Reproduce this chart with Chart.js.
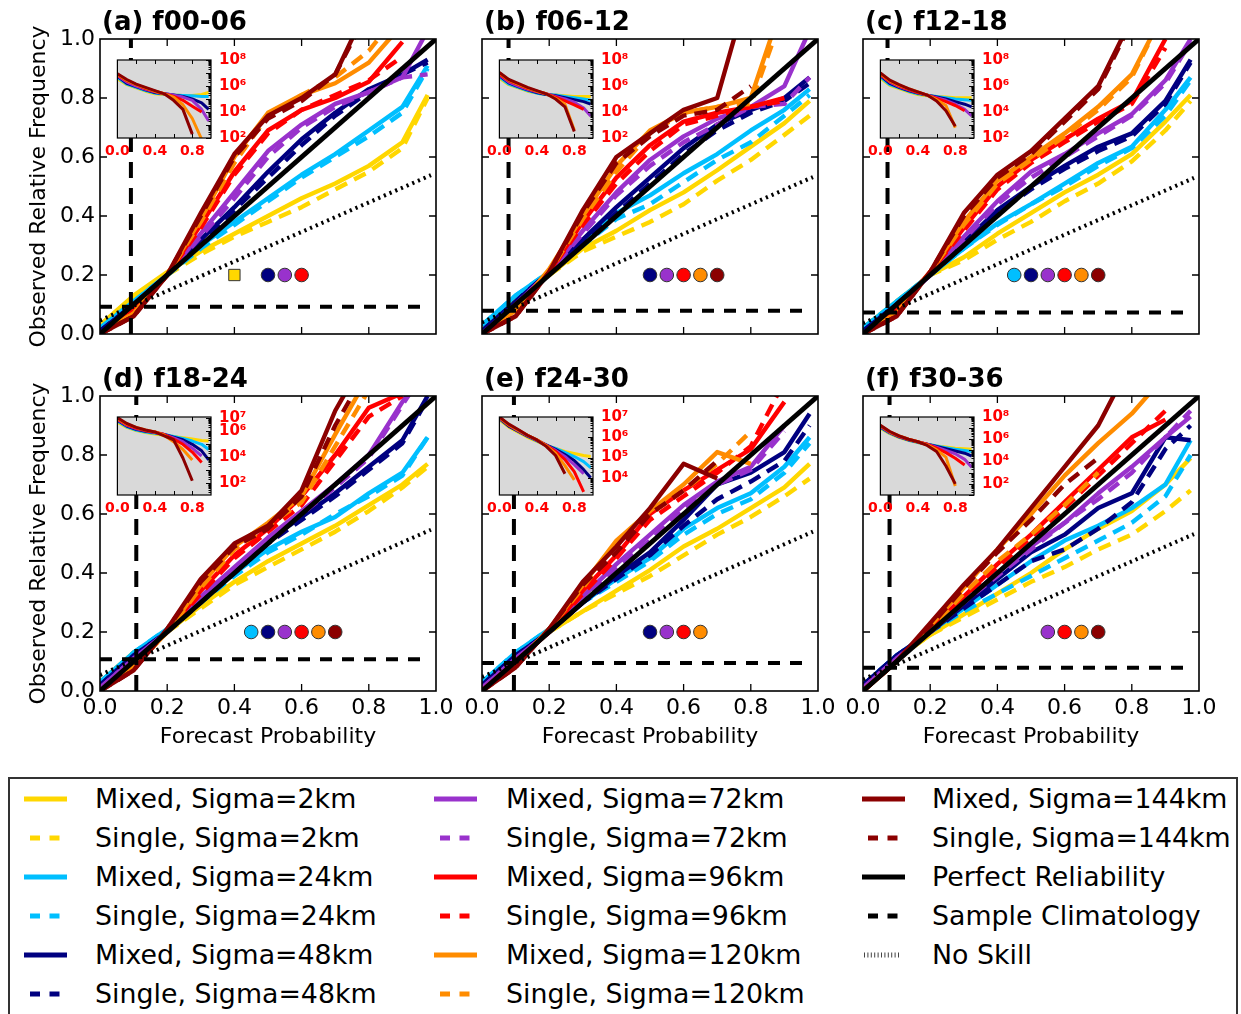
<!DOCTYPE html>
<html>
<head>
<meta charset="utf-8">
<script src="https://cdn.jsdelivr.net/npm/chart.js@4.4.1/dist/chart.umd.min.js"></script>
<style>
  html, body { margin: 0; padding: 0; background: #fff; }
  #page { position: relative; width: 1241px; height: 1014px; overflow: hidden; font-family: 'DejaVu Sans', sans-serif; }
  #page canvas { position: absolute; }
  #legend { position: absolute; left: 8px; top: 777px; width: 1230px; height: 260px; border: 2px solid #333; box-sizing: border-box; }
  .lg-text { position: absolute; height: 30px; line-height: 30px; font-size: 26.8px; white-space: nowrap; color: #000; }
  .lg-line { position: absolute; width: 46px; height: 12px; }
</style>
</head>
<body>
<div id="page"><div id="legend"></div></div>
<script>
// forecast probability bins shared by every curve
const PROB = [0, 0.1, 0.2, 0.3, 0.4, 0.5, 0.6, 0.7, 0.8, 0.9, 0.975];
const AXIS_TICKS = [0, 0.2, 0.4, 0.6, 0.8, 1.0];
const INSET_X_TICKS = [0, 0.4, 0.8];

const SIGMAS = [2, 24, 48, 72, 96, 120, 144];
const COLORS = ['#FFD700', '#00BFFF', '#000080', '#9932CC', '#FF0000', '#FF8C00', '#8B0000'];
const PANELS = ['(a) f00-06', '(b) f06-12', '(c) f12-18', '(d) f18-24', '(e) f24-30', '(f) f30-36'];

// sample climatology per lead-time window
const CLIM = [0.092, 0.079, 0.073, 0.108, 0.095, 0.079];

// significance markers, one slot per sigma
const MARK_X = [0.40, 0.45, 0.50, 0.55, 0.60, 0.65, 0.70];
const MARK_Y = 0.2;
const marksA = ['rect', '', 'circle', 'circle', 'circle', '', ''];
const marksB = ['', '', 'circle', 'circle', 'circle', 'circle', 'circle'];
const marksC = ['', 'circle', 'circle', 'circle', 'circle', 'circle', 'circle'];
const marksD = ['', 'circle', 'circle', 'circle', 'circle', 'circle', 'circle'];
const marksE = ['', '', 'circle', 'circle', 'circle', 'circle', ''];
const marksF = ['', '', '', 'circle', 'circle', 'circle', 'circle'];

// observed relative frequency, rows ordered like SIGMAS
const mixedA = [
  [0.03, 0.13, 0.21, 0.28, 0.34, 0.40, 0.46, 0.51, 0.57, 0.65, 0.81],
  [0.02, 0.11, 0.20, 0.30, 0.38, 0.46, 0.54, 0.61, 0.69, 0.77, 0.91],
  [0.01, 0.10, 0.20, 0.32, 0.43, 0.55, 0.66, 0.75, 0.83, 0.88, 0.93],
  [0.00, 0.09, 0.20, 0.34, 0.48, 0.62, 0.71, 0.78, 0.82, 0.87, 1.03],
  [0.00, 0.08, 0.20, 0.37, 0.55, 0.69, 0.76, 0.80, 0.855, 0.99, null],
  [0.00, 0.07, 0.20, 0.39, 0.60, 0.75, 0.81, 0.85, 0.92, 1.05, null],
  [0.00, 0.06, 0.20, 0.41, 0.61, 0.74, 0.80, 0.88, 1.12, null, null]
];
const singleA = [
  [0.03, 0.12, 0.20, 0.27, 0.33, 0.38, 0.43, 0.49, 0.55, 0.63, 0.80],
  [0.02, 0.11, 0.20, 0.29, 0.37, 0.45, 0.53, 0.60, 0.67, 0.75, 0.90],
  [0.01, 0.10, 0.20, 0.31, 0.42, 0.53, 0.64, 0.74, 0.82, 0.88, 0.92],
  [0.00, 0.09, 0.20, 0.33, 0.46, 0.60, 0.70, 0.77, 0.82, 0.87, 0.88],
  [0.00, 0.08, 0.20, 0.36, 0.54, 0.68, 0.76, 0.81, 0.86, 0.94, null],
  [0.00, 0.07, 0.20, 0.38, 0.58, 0.74, 0.81, 0.87, 0.96, 1.10, null],
  [0.00, 0.06, 0.20, 0.40, 0.60, 0.73, 0.79, 0.88, 1.10, null, null]
];
const mixedB = [
  [0.03, 0.12, 0.20, 0.29, 0.35, 0.42, 0.48, 0.555, 0.635, 0.715, 0.79],
  [0.03, 0.13, 0.21, 0.31, 0.41, 0.47, 0.545, 0.61, 0.69, 0.76, 0.83],
  [0.01, 0.11, 0.21, 0.32, 0.43, 0.53, 0.63, 0.71, 0.76, 0.80, 0.87],
  [0.00, 0.10, 0.21, 0.35, 0.48, 0.59, 0.67, 0.73, 0.77, 0.84, 1.03],
  [0.00, 0.09, 0.21, 0.38, 0.53, 0.64, 0.72, 0.75, 0.77, 0.80, null],
  [0.00, 0.08, 0.22, 0.40, 0.57, 0.69, 0.75, 0.77, 0.80, 1.14, null],
  [0.00, 0.06, 0.21, 0.42, 0.60, 0.68, 0.76, 0.80, 1.20, null, null]
];
const singleB = [
  [0.03, 0.12, 0.20, 0.28, 0.33, 0.38, 0.44, 0.52, 0.59, 0.675, 0.74],
  [0.03, 0.13, 0.21, 0.30, 0.39, 0.44, 0.515, 0.59, 0.65, 0.74, 0.81],
  [0.01, 0.11, 0.21, 0.31, 0.41, 0.51, 0.61, 0.69, 0.75, 0.79, 0.85],
  [0.00, 0.10, 0.21, 0.34, 0.47, 0.57, 0.65, 0.71, 0.77, 0.78, 0.87],
  [0.00, 0.09, 0.21, 0.37, 0.51, 0.62, 0.71, 0.74, 0.77, 0.79, null],
  [0.00, 0.08, 0.21, 0.39, 0.55, 0.68, 0.75, 0.77, 0.78, 1.10, null],
  [0.00, 0.06, 0.21, 0.41, 0.58, 0.67, 0.74, 0.76, 0.84, null, null]
];
const mixedC = [
  [0.02, 0.11, 0.20, 0.26, 0.34, 0.41, 0.48, 0.54, 0.61, 0.72, 0.81],
  [0.02, 0.11, 0.20, 0.29, 0.375, 0.44, 0.51, 0.58, 0.635, 0.76, 0.87],
  [0.01, 0.10, 0.20, 0.31, 0.42, 0.50, 0.57, 0.635, 0.68, 0.79, 0.93],
  [0.00, 0.09, 0.20, 0.33, 0.45, 0.55, 0.61, 0.68, 0.745, 0.86, 1.00],
  [0.00, 0.08, 0.21, 0.36, 0.50, 0.59, 0.66, 0.73, 0.79, 1.00, null],
  [0.00, 0.07, 0.21, 0.38, 0.52, 0.60, 0.68, 0.77, 0.88, 1.10, null],
  [0.00, 0.06, 0.21, 0.41, 0.54, 0.62, 0.73, 0.84, 1.07, null, null]
];
const singleC = [
  [0.02, 0.11, 0.20, 0.25, 0.32, 0.38, 0.45, 0.51, 0.585, 0.69, 0.79],
  [0.02, 0.11, 0.20, 0.29, 0.37, 0.44, 0.50, 0.57, 0.63, 0.74, 0.86],
  [0.01, 0.10, 0.20, 0.30, 0.41, 0.49, 0.56, 0.62, 0.67, 0.78, 0.92],
  [0.00, 0.09, 0.20, 0.32, 0.44, 0.53, 0.60, 0.67, 0.74, 0.85, 0.99],
  [0.00, 0.08, 0.21, 0.35, 0.49, 0.58, 0.65, 0.72, 0.78, 0.97, null],
  [0.00, 0.07, 0.21, 0.37, 0.51, 0.59, 0.67, 0.76, 0.87, 1.10, null],
  [0.00, 0.06, 0.21, 0.40, 0.53, 0.61, 0.72, 0.83, 1.06, null, null]
];
const mixedD = [
  [0.03, 0.13, 0.20, 0.29, 0.37, 0.44, 0.50, 0.56, 0.63, 0.70, 0.77],
  [0.03, 0.13, 0.21, 0.30, 0.40, 0.48, 0.54, 0.59, 0.67, 0.74, 0.86],
  [0.02, 0.12, 0.20, 0.31, 0.41, 0.51, 0.59, 0.67, 0.76, 0.85, 1.00],
  [0.01, 0.11, 0.20, 0.32, 0.42, 0.52, 0.61, 0.70, 0.80, 0.98, 1.10],
  [0.00, 0.09, 0.20, 0.34, 0.46, 0.55, 0.66, 0.80, 0.96, 1.01, null],
  [0.00, 0.08, 0.20, 0.36, 0.49, 0.57, 0.66, 0.87, 1.07, null, null],
  [0.00, 0.07, 0.21, 0.38, 0.50, 0.56, 0.68, 0.95, 1.15, null, null]
];
const singleD = [
  [0.03, 0.13, 0.20, 0.28, 0.36, 0.42, 0.48, 0.54, 0.61, 0.69, 0.76],
  [0.03, 0.13, 0.21, 0.30, 0.39, 0.47, 0.53, 0.60, 0.66, 0.73, 0.86],
  [0.02, 0.12, 0.20, 0.30, 0.40, 0.50, 0.58, 0.66, 0.75, 0.84, 0.99],
  [0.01, 0.11, 0.20, 0.31, 0.41, 0.51, 0.60, 0.69, 0.79, 0.97, 1.10],
  [0.00, 0.09, 0.20, 0.33, 0.45, 0.54, 0.63, 0.78, 0.93, 1.00, null],
  [0.00, 0.08, 0.20, 0.35, 0.48, 0.56, 0.64, 0.83, 1.02, null, null],
  [0.00, 0.07, 0.21, 0.37, 0.49, 0.55, 0.66, 0.90, 1.10, null, null]
];
const mixedE = [
  [0.03, 0.12, 0.20, 0.27, 0.34, 0.41, 0.49, 0.55, 0.62, 0.69, 0.77],
  [0.03, 0.13, 0.21, 0.30, 0.38, 0.45, 0.55, 0.62, 0.67, 0.76, 0.86],
  [0.02, 0.12, 0.20, 0.30, 0.39, 0.47, 0.58, 0.70, 0.74, 0.81, 0.94],
  [0.01, 0.11, 0.20, 0.32, 0.43, 0.53, 0.63, 0.71, 0.76, 0.90, null],
  [0.00, 0.10, 0.20, 0.34, 0.46, 0.60, 0.68, 0.75, 0.82, 0.98, null],
  [0.00, 0.09, 0.21, 0.36, 0.51, 0.61, 0.70, 0.81, 0.77, null, null],
  [0.00, 0.08, 0.21, 0.37, 0.49, 0.62, 0.77, 0.72, null, null, null]
];
const singleE = [
  [0.03, 0.12, 0.20, 0.27, 0.33, 0.39, 0.46, 0.53, 0.59, 0.66, 0.72],
  [0.03, 0.13, 0.21, 0.30, 0.37, 0.44, 0.53, 0.60, 0.65, 0.74, 0.84],
  [0.02, 0.12, 0.20, 0.30, 0.38, 0.46, 0.56, 0.65, 0.71, 0.78, 0.90],
  [0.01, 0.11, 0.20, 0.31, 0.42, 0.51, 0.62, 0.70, 0.75, 0.88, null],
  [0.00, 0.10, 0.20, 0.33, 0.45, 0.58, 0.66, 0.74, 0.83, 1.05, null],
  [0.00, 0.09, 0.21, 0.35, 0.50, 0.60, 0.68, 0.77, 0.88, null, null],
  [0.00, 0.08, 0.21, 0.36, 0.47, 0.60, 0.68, 0.78, null, null, null]
];
const mixedF = [
  [0.02, 0.11, 0.19, 0.26, 0.33, 0.40, 0.48, 0.55, 0.61, 0.70, 0.79],
  [0.02, 0.12, 0.20, 0.28, 0.36, 0.44, 0.51, 0.56, 0.62, 0.70, 0.85],
  [0.02, 0.12, 0.20, 0.29, 0.38, 0.47, 0.53, 0.62, 0.67, 0.86, 0.85],
  [0.01, 0.11, 0.20, 0.30, 0.40, 0.49, 0.57, 0.67, 0.76, 0.86, 0.93],
  [0.00, 0.10, 0.21, 0.32, 0.43, 0.53, 0.64, 0.75, 0.86, 0.92, null],
  [0.00, 0.10, 0.22, 0.35, 0.48, 0.60, 0.73, 0.84, 0.94, 1.07, null],
  [0.00, 0.10, 0.23, 0.36, 0.48, 0.62, 0.76, 0.90, 1.12, null, null]
];
const singleF = [
  [0.02, 0.11, 0.19, 0.25, 0.31, 0.37, 0.42, 0.48, 0.53, 0.61, 0.68],
  [0.02, 0.12, 0.20, 0.27, 0.33, 0.39, 0.45, 0.51, 0.57, 0.66, 0.80],
  [0.02, 0.12, 0.20, 0.28, 0.36, 0.44, 0.48, 0.55, 0.64, 0.82, 0.90],
  [0.01, 0.11, 0.20, 0.30, 0.39, 0.48, 0.57, 0.65, 0.74, 0.86, 0.95],
  [0.00, 0.10, 0.21, 0.32, 0.42, 0.52, 0.62, 0.73, 0.84, 0.95, null],
  [0.00, 0.10, 0.21, 0.33, 0.44, 0.53, 0.63, 0.74, null, null, null],
  [0.00, 0.10, 0.22, 0.35, 0.47, 0.58, 0.70, 0.79, null, null, null]
];

// forecast counts per bin (log10), mixed ensembles
const countA = [
  [6.55, 6.10, 5.85, 5.60, 5.40, 5.35, 5.30, 5.27, 5.27, 5.35, 5.50],
  [6.65, 6.15, 5.90, 5.65, 5.45, 5.38, 5.30, 5.27, 5.25, 5.20, 5.20],
  [6.75, 6.20, 5.95, 5.70, 5.50, 5.40, 5.30, 5.20, 5.00, 4.70, 4.20],
  [6.80, 6.30, 6.00, 5.75, 5.55, 5.40, 5.30, 5.15, 4.90, 4.20, 3.30],
  [6.85, 6.40, 6.10, 5.80, 5.60, 5.40, 5.20, 4.90, 4.45, 4.00, null],
  [6.90, 6.45, 6.10, 5.85, 5.60, 5.40, 5.15, 4.56, 3.50, 1.90, null],
  [6.95, 6.50, 6.15, 5.90, 5.65, 5.40, 4.90, 4.20, 2.30, null, null]
];
const countB = [
  [6.60, 6.10, 5.85, 5.60, 5.45, 5.35, 5.30, 5.25, 5.20, 5.20, 5.20],
  [6.70, 6.15, 5.90, 5.65, 5.45, 5.35, 5.30, 5.20, 5.10, 5.00, 4.90],
  [6.80, 6.25, 5.95, 5.70, 5.50, 5.35, 5.25, 5.10, 4.95, 4.80, 4.60],
  [6.85, 6.30, 6.00, 5.75, 5.55, 5.40, 5.20, 5.00, 4.75, 4.30, 3.70],
  [6.90, 6.40, 6.10, 5.80, 5.60, 5.40, 5.15, 4.85, 4.55, 4.20, null],
  [7.00, 6.45, 6.15, 5.85, 5.60, 5.40, 5.05, 4.60, 2.60, null, null],
  [7.05, 6.50, 6.20, 5.90, 5.65, 5.40, 5.00, 4.40, 2.50, null, null]
];
const countC = [
  [6.60, 6.05, 5.80, 5.55, 5.35, 5.25, 5.20, 5.15, 5.10, 5.10, 5.10],
  [6.70, 6.10, 5.85, 5.60, 5.40, 5.28, 5.20, 5.10, 5.00, 4.95, 4.90],
  [6.80, 6.20, 5.90, 5.65, 5.45, 5.30, 5.15, 5.00, 4.80, 4.60, 4.40],
  [6.85, 6.30, 5.95, 5.70, 5.50, 5.30, 5.10, 4.90, 4.60, 4.20, 3.70],
  [6.90, 6.35, 6.00, 5.75, 5.50, 5.30, 5.05, 4.80, 4.50, 4.10, null],
  [6.95, 6.40, 6.05, 5.80, 5.55, 5.30, 4.95, 4.50, 2.80, null, null],
  [7.00, 6.45, 6.10, 5.80, 5.55, 5.30, 4.85, 4.10, 2.90, null, null]
];
const countD = [
  [6.70, 6.30, 6.05, 5.90, 5.80, 5.70, 5.60, 5.50, 5.40, 5.30, 5.25],
  [6.80, 6.35, 6.10, 5.95, 5.85, 5.75, 5.60, 5.45, 5.25, 5.00, 4.60],
  [6.85, 6.40, 6.15, 6.00, 5.90, 5.75, 5.55, 5.35, 5.00, 4.50, 3.80],
  [6.90, 6.45, 6.20, 6.05, 5.90, 5.75, 5.50, 5.20, 4.70, 4.10, null],
  [6.95, 6.50, 6.25, 6.05, 5.95, 5.75, 5.40, 5.00, 4.40, 3.60, null],
  [7.00, 6.55, 6.30, 6.10, 5.95, 5.70, 5.20, 4.60, 3.80, null, null],
  [7.05, 6.60, 6.30, 6.10, 5.95, 5.65, 5.35, 3.95, 2.20, null, null]
];
const countE = [
  [6.85, 6.50, 6.25, 6.00, 5.80, 5.60, 5.45, 5.30, 5.20, 5.10, 5.05],
  [6.90, 6.55, 6.30, 6.05, 5.82, 5.60, 5.45, 5.25, 5.05, 4.80, 4.50],
  [6.93, 6.55, 6.30, 6.05, 5.85, 5.62, 5.40, 5.15, 4.85, 4.40, 4.00],
  [6.95, 6.60, 6.32, 6.08, 5.85, 5.60, 5.35, 5.05, 4.65, 4.20, null],
  [6.97, 6.60, 6.35, 6.10, 5.87, 5.60, 5.30, 4.90, 4.30, 3.30, null],
  [6.98, 6.62, 6.35, 6.10, 5.87, 5.58, 5.20, 4.60, 3.90, null, null],
  [7.00, 6.65, 6.38, 6.10, 5.87, 5.55, 5.10, 4.20, null, null, null]
];
const countF = [
  [7.00, 6.50, 6.15, 5.90, 5.70, 5.55, 5.40, 5.30, 5.20, 5.15, 5.10],
  [7.05, 6.55, 6.20, 5.92, 5.72, 5.55, 5.40, 5.25, 5.10, 5.00, 4.90],
  [7.10, 6.60, 6.22, 5.95, 5.75, 5.55, 5.35, 5.15, 4.95, 4.75, 4.50],
  [7.15, 6.62, 6.25, 5.97, 5.77, 5.55, 5.30, 5.00, 4.70, 4.20, 3.50],
  [7.20, 6.65, 6.27, 6.00, 5.78, 5.55, 5.20, 4.80, 4.30, 3.70, null],
  [7.22, 6.67, 6.30, 6.00, 5.78, 5.50, 5.05, 4.40, 1.80, null, null],
  [7.25, 6.70, 6.30, 6.00, 5.78, 5.45, 4.90, 3.60, 2.00, null, null]
];

// inset count axis limits and labelled decades (log10)
const INSET_LOG_MIN = [2, 2, 2, 1.1, 3.15, 1.0];
const INSET_LOG_MAX = [8, 8, 8, 7.1, 7.0, 8.0];
const INSET_TICKS = [[2, 4, 6, 8], [2, 4, 6, 8], [2, 4, 6, 8], [2, 4, 6, 7], [4, 5, 6, 7], [2, 4, 6, 8]];

const MIXED = [mixedA, mixedB, mixedC, mixedD, mixedE, mixedF];
const SINGLE = [singleA, singleB, singleC, singleD, singleE, singleF];
const COUNTS = [countA, countB, countC, countD, countE, countF];
const MARKS = [marksA, marksB, marksC, marksD, marksE, marksF];

// page layout (px)
const COL_LEFT = [100, 482, 863];
const ROW_TOP = [39, 396];
const PLOT_W = 336, PLOT_H = 295;
const PAD_L = 100, PAD_T = 39, PAD_R = 22, PAD_B = 70;
const INSET_W = 97, INSET_H = 85, INSET_OFF = 14;
const INSET_PAD_L = 14, INSET_PAD_T = 10, INSET_AX_R = 48, INSET_AX_B = 26;

const SUP = {1: '\u00b9', 2: '\u00b2', 3: '\u00b3', 4: '\u2074', 5: '\u2075', 6: '\u2076', 7: '\u2077', 8: '\u2078'};

Chart.defaults.font.family = '"DejaVu Sans", sans-serif';
Chart.defaults.color = '#000';

const page = document.getElementById('page');

function addCanvas(left, top, w, h) {
  const c = document.createElement('canvas');
  c.width = w; c.height = h;
  c.style.left = left + 'px';
  c.style.top = top + 'px';
  c.style.width = w + 'px';
  c.style.height = h + 'px';
  page.appendChild(c);
  return c;
}

function line(points, color, width, dash) {
  return {
    data: points,
    borderColor: color,
    borderWidth: width,
    borderDash: dash,
    borderCapStyle: 'butt',
    borderJoinStyle: 'round',
    pointRadius: 0,
    tension: 0,
    fill: false,
    clip: 0
  };
}

function curvePoints(values, transform) {
  return PROB.map((p, j) => ({x: p, y: values[j]}))
    .filter(pt => pt.y !== null)
    .map(pt => transform ? {x: pt.x, y: transform(pt.y)} : pt);
}

// frame, inward ticks and panel title
const panelFrame = {
  id: 'panelFrame',
  afterDatasetsDraw(chart, args, opts) {
    const {ctx, chartArea: {left, top, right, bottom}, scales: {x, y}} = chart;
    ctx.save();
    ctx.strokeStyle = '#000';
    ctx.lineWidth = 1.3;
    ctx.beginPath();
    AXIS_TICKS.slice(1, -1).forEach(v => {
      const px = x.getPixelForValue(v), py = y.getPixelForValue(v);
      ctx.moveTo(px, bottom); ctx.lineTo(px, bottom - 7);
      ctx.moveTo(px, top); ctx.lineTo(px, top + 7);
      ctx.moveTo(left, py); ctx.lineTo(left + 7, py);
      ctx.moveTo(right, py); ctx.lineTo(right - 7, py);
    });
    ctx.stroke();
    ctx.lineWidth = 1.6;
    ctx.strokeRect(left, top, right - left, bottom - top);
    ctx.font = 'bold 26px "DejaVu Sans"';
    ctx.fillStyle = '#000';
    ctx.textBaseline = 'alphabetic';
    ctx.textAlign = 'left';
    ctx.fillText(opts.title, left + 2, top - 9);
    ctx.restore();
  }
};

// grey inset background, border and log ticks on the right
const insetFrame = {
  id: 'insetFrame',
  beforeDatasetsDraw(chart) {
    const {ctx, chartArea: {left, top, right, bottom}} = chart;
    ctx.save();
    ctx.fillStyle = '#d9d9d9';
    ctx.fillRect(left, top, right - left, bottom - top);
    ctx.restore();
  },
  afterDatasetsDraw(chart) {
    const {ctx, chartArea: {left, top, right, bottom}, scales: {x, y}} = chart;
    ctx.save();
    ctx.strokeStyle = '#000';
    ctx.lineWidth = 1;
    ctx.beginPath();
    AXIS_TICKS.slice(1, -1).forEach(v => {
      const px = Math.round(x.getPixelForValue(v)) + 0.5;
      ctx.moveTo(px, bottom); ctx.lineTo(px, bottom - 4);
      ctx.moveTo(px, top); ctx.lineTo(px, top + 4);
    });
    const lo = Math.log10(y.min), hi = Math.log10(y.max);
    for (let d = Math.floor(lo); d <= Math.ceil(hi); d++) {
      for (let m = 1; m <= 9; m++) {
        const e = d + Math.log10(m);
        if (e < lo || e > hi) continue;
        const py = Math.round(y.getPixelForValue(m * Math.pow(10, d))) + 0.5;
        ctx.moveTo(right, py); ctx.lineTo(right - (m === 1 ? 5 : 2.5), py);
      }
    }
    ctx.stroke();
    ctx.lineWidth = 1.2;
    ctx.strokeRect(left, top, right - left, bottom - top);
    ctx.restore();
  }
};

function makePanel(i) {
  const row = Math.floor(i / 3), col = i % 3;
  const canvas = addCanvas(COL_LEFT[col] - PAD_L, ROW_TOP[row] - PAD_T,
    PAD_L + PLOT_W + PAD_R, PAD_T + PLOT_H + PAD_B);
  const clim = CLIM[i];

  // paint order: first entry ends up underneath
  const layers = [];
  SIGMAS.forEach((s, k) => {
    layers.push(line(curvePoints(MIXED[i][k]), COLORS[k], 4.4, []));
    layers.push(line(curvePoints(SINGLE[i][k]), COLORS[k], 4.4, [13, 8]));
  });
  layers.push(line([{x: 0, y: 0}, {x: 1, y: 1}], '#000', 4.8, []));
  layers.push(line([{x: 0, y: clim}, {x: 0.965, y: clim}], '#000', 4, [12, 10]));
  layers.push(line([{x: clim, y: 0}, {x: clim, y: 1}], '#000', 4, [16, 10]));
  layers.push(line([{x: 0, y: clim / 2}, {x: 0.985, y: (0.985 + clim) / 2}], '#000', 4, [2.2, 4]));

  const marks = MARKS[i].map((m, k) => ({m, k})).filter(o => o.m);
  layers.push({
    data: marks.map(o => ({x: MARK_X[o.k], y: MARK_Y})),
    showLine: false,
    pointStyle: marks.map(o => o.m),
    pointRadius: marks.map(o => o.m === 'rect' ? 8 : 6.8),
    pointBackgroundColor: marks.map(o => COLORS[o.k]),
    pointBorderColor: '#333',
    pointBorderWidth: 1,
    clip: 0
  });
  layers.forEach((d, j) => { d.order = layers.length - j; });

  new Chart(canvas, {
    type: 'line',
    data: {datasets: layers},
    options: {
      responsive: false,
      devicePixelRatio: 1,
      animation: false,
      events: [],
      layout: {padding: {left: 0, top: PAD_T, right: PAD_R, bottom: 0}},
      plugins: {legend: {display: false}, tooltip: {enabled: false}, panelFrame: {title: PANELS[i]}},
      scales: {
        x: {
          type: 'linear', min: 0, max: 1,
          afterBuildTicks: s => { s.ticks = AXIS_TICKS.map(v => ({value: v})); },
          afterFit: s => { s.height = PAD_B; },
          grid: {display: false, drawTicks: false},
          border: {display: false},
          ticks: {display: row === 1, padding: 4, autoSkip: false, maxRotation: 0,
            font: {size: 22}, color: '#000', callback: v => v.toFixed(1)},
          title: {display: row === 1, text: 'Forecast Probability', color: '#000',
            font: {size: 22}, padding: {top: 0, bottom: 11}}
        },
        y: {
          type: 'linear', min: 0, max: 1,
          afterBuildTicks: s => { s.ticks = AXIS_TICKS.map(v => ({value: v})); },
          afterFit: s => { s.width = PAD_L; },
          grid: {display: false, drawTicks: false},
          border: {display: false},
          ticks: {display: col === 0, padding: 5, autoSkip: false,
            font: {size: 22}, color: '#000', callback: v => v.toFixed(1)},
          title: {display: col === 0, text: 'Observed Relative Frequency', color: '#000',
            font: {size: 22}, padding: {top: 26, bottom: 0}}
        }
      }
    },
    plugins: [panelFrame]
  });
}

function makeInset(i) {
  const row = Math.floor(i / 3), col = i % 3;
  const boxLeft = COL_LEFT[col] + INSET_OFF, boxTop = ROW_TOP[row] + INSET_OFF;
  const canvas = addCanvas(boxLeft - INSET_PAD_L, boxTop - INSET_PAD_T,
    INSET_PAD_L + INSET_W + INSET_AX_R, INSET_PAD_T + INSET_H + INSET_AX_B);

  const layers = COUNTS[i].map((vals, k) =>
    line(curvePoints(vals, v => Math.pow(10, v)), COLORS[k], 3, []));
  layers.forEach((d, j) => { d.order = layers.length - j; });

  const red = '#ff0000';
  new Chart(canvas, {
    type: 'line',
    data: {datasets: layers},
    options: {
      responsive: false,
      devicePixelRatio: 1,
      animation: false,
      events: [],
      layout: {padding: {left: INSET_PAD_L, top: INSET_PAD_T, right: 0, bottom: 0}},
      plugins: {legend: {display: false}, tooltip: {enabled: false}},
      scales: {
        x: {
          type: 'linear', min: 0, max: 1,
          afterBuildTicks: s => { s.ticks = INSET_X_TICKS.map(v => ({value: v})); },
          afterFit: s => { s.height = INSET_AX_B; },
          grid: {display: false, drawTicks: false},
          border: {display: false},
          ticks: {padding: 5, autoSkip: false, maxRotation: 0, color: red,
            font: {size: 14, weight: 'bold'}, callback: v => v.toFixed(1)}
        },
        y: {
          type: 'logarithmic', position: 'right',
          min: Math.pow(10, INSET_LOG_MIN[i]), max: Math.pow(10, INSET_LOG_MAX[i]),
          afterBuildTicks: s => { s.ticks = INSET_TICKS[i].map(e => ({value: Math.pow(10, e)})); },
          afterFit: s => { s.width = INSET_AX_R; },
          grid: {display: false, drawTicks: false},
          border: {display: false},
          ticks: {padding: 8, autoSkip: false, color: red,
            font: {size: 15, weight: 'bold'},
            callback: v => '10' + SUP[Math.round(Math.log10(v))]}
        }
      }
    },
    plugins: [insetFrame]
  });
}

for (let i = 0; i < 6; i++) makePanel(i);
for (let i = 0; i < 6; i++) makeInset(i);

// legend: three columns of six rows, filled column by column
const LEG_LINE_X = [24, 434, 862];
const LEG_TEXT_X = [95, 506, 932];
const LEG_ROW_Y = [799, 838, 877, 916, 955, 994];

const entries = [];
SIGMAS.forEach((s, k) => {
  entries.push({label: 'Mixed, Sigma=' + s + 'km', color: COLORS[k], kind: 'solid'});
  entries.push({label: 'Single, Sigma=' + s + 'km', color: COLORS[k], kind: 'dashed'});
});
entries.push({label: 'Perfect Reliability', color: '#000', kind: 'solid'});
entries.push({label: 'Sample Climatology', color: '#000', kind: 'dashed'});
entries.push({label: 'No Skill', color: '#444', kind: 'dotted'});

const NS = 'http://www.w3.org/2000/svg';
entries.forEach((e, n) => {
  const c = Math.floor(n / 6), r = n % 6;
  const svg = document.createElementNS(NS, 'svg');
  svg.setAttribute('class', 'lg-line');
  svg.setAttribute('width', 46);
  svg.setAttribute('height', 12);
  svg.style.left = LEG_LINE_X[c] + 'px';
  svg.style.top = (LEG_ROW_Y[r] - 6) + 'px';
  const ln = document.createElementNS(NS, 'line');
  ln.setAttribute('y1', 6);
  ln.setAttribute('y2', 6);
  ln.setAttribute('stroke', e.color);
  ln.setAttribute('stroke-width', 5);
  if (e.kind === 'solid') {
    ln.setAttribute('x1', 0); ln.setAttribute('x2', 43);
  } else if (e.kind === 'dashed') {
    ln.setAttribute('x1', 6); ln.setAttribute('x2', 36);
    ln.setAttribute('stroke-dasharray', '10 9.5');
  } else {
    ln.setAttribute('x1', 2); ln.setAttribute('x2', 39);
    ln.setAttribute('stroke-dasharray', '1 2.4');
  }
  svg.appendChild(ln);
  page.appendChild(svg);

  const t = document.createElement('div');
  t.className = 'lg-text';
  t.textContent = e.label;
  t.style.left = LEG_TEXT_X[c] + 'px';
  t.style.top = (LEG_ROW_Y[r] - 15) + 'px';
  page.appendChild(t);
});
</script>
</body>
</html>
